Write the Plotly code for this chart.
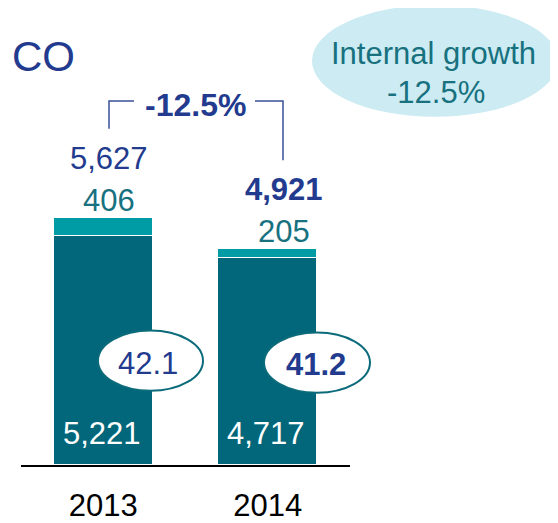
import plotly.graph_objects as go

years = ["2013", "2014"]
base = [5221, 4717]
extra = [406, 205]
totals = [5627, 4921]
ratio = ["42.1", "41.2"]
change = "-12.5%"
internal = "-12.5%"

# page has an 8px body margin, so the figure is 8px smaller and everything is measured from there
OFF = 8
W, H = 558 - OFF, 523 - OFF
L, R, T, B = 13, 208, 0, 53
FONT = "Liberation Sans, Arial, sans-serif"
NAVY = "#233B8E"
DARK = "#02677A"
LIGHT = "#009CA6"
TEAL_TXT = "#17717F"
FS = 31


def px(x):
    return (x - OFF - L) / (W - L - R)


def py(y):
    return (H - B - (y - OFF)) / (H - T - B)


xs = [0, 1]
fig = go.Figure()
fig.add_trace(go.Bar(x=xs, y=base, width=0.6, marker=dict(color=DARK, line=dict(color="white", width=1))))
fig.add_trace(go.Bar(x=xs, y=extra, width=0.6, marker=dict(color=LIGHT, line=dict(color="white", width=1))))

ann = []
shapes = []
shift = [6, 16]
inner_shift = [-1, -2]
ell = [(98, 203, 334, 395), (264, 370, 336, 397)]
ell_txt = [(148, 367), (316, 368)]
for i in range(2):
    ann.append(dict(x=xs[i], y=0, text=f"{base[i]:,}", showarrow=False, yanchor="middle",
                    xshift=inner_shift[i], yshift=32, font=dict(color="white", size=FS)))
    ann.append(dict(x=xs[i], y=totals[i], text=f"{extra[i]:,}", showarrow=False, yanchor="middle",
                    xshift=shift[i], yshift=17, font=dict(color=TEAL_TXT, size=FS)))
    ann.append(dict(x=xs[i], y=totals[i], text=(f"<b>{totals[i]:,}</b>" if i else f"{totals[i]:,}"),
                    showarrow=False, yanchor="middle", xshift=shift[i], yshift=59,
                    font=dict(color=NAVY, size=FS)))
    # ratio ellipse
    x0, x1, y0, y1 = ell[i]
    shapes.append(dict(type="circle", xref="paper", yref="paper", x0=px(x0), x1=px(x1), y0=py(y1), y1=py(y0),
                       fillcolor="white", line=dict(color="#0B6B7B", width=2), layer="above"))
    tx, ty = ell_txt[i]
    ann.append(dict(x=px(tx), y=py(ty), xref="paper", yref="paper", xanchor="center", yanchor="middle",
                    text=(f"<b>{ratio[i]}</b>" if i else ratio[i]), showarrow=False,
                    font=dict(color=NAVY, size=FS)))

# bracket
shapes.append(dict(type="path", xref="paper", yref="paper",
                   path=f"M {px(109)} {py(130)} L {px(109)} {py(102)} L {px(134)} {py(102)}",
                   line=dict(color="#3A4F9A", width=1.5)))
shapes.append(dict(type="path", xref="paper", yref="paper",
                   path=f"M {px(255)} {py(102)} L {px(283)} {py(102)} L {px(283)} {py(162)}",
                   line=dict(color="#3A4F9A", width=1.5)))
ann.append(dict(x=px(195), y=py(106), xref="paper", yref="paper", xanchor="center", yanchor="middle",
                text=f"<b>{change}</b>", showarrow=False, font=dict(color=NAVY, size=32)))

# internal growth bubble
shapes.append(dict(type="circle", xref="paper", yref="paper", x0=px(312), x1=px(558), y0=py(118), y1=py(5),
                   fillcolor="#CDEBF2", line=dict(width=0), layer="below"))
ann.append(dict(x=px(433), y=py(54), xref="paper", yref="paper", xanchor="center", yanchor="middle",
                text="Internal growth", showarrow=False, font=dict(color=TEAL_TXT, size=FS)))
ann.append(dict(x=px(436), y=py(93), xref="paper", yref="paper", xanchor="center", yanchor="middle",
                text=internal, showarrow=False, font=dict(color=TEAL_TXT, size=FS)))

ann.append(dict(x=px(10), y=py(57), xref="paper", yref="paper", text="CO", showarrow=False,
                xanchor="left", yanchor="middle", font=dict(color=NAVY, size=42)))

fig.update_layout(
    width=W, height=H, margin=dict(l=L, r=R, t=T, b=B),
    barmode="stack", showlegend=False, bargap=0,
    plot_bgcolor="white", paper_bgcolor="white",
    font=dict(family=FONT),
    annotations=ann, shapes=shapes,
    xaxis=dict(range=[-0.5, 1.5], tickvals=xs, ticktext=years, showgrid=False, zeroline=False,
               showline=True, linecolor="black", linewidth=1.5, ticks="", ticklabelstandoff=12,
               tickfont=dict(size=FS, color="black")),
    yaxis=dict(range=[0, 462 / 0.044436], visible=False),
)
fig.write_html("out.html")
